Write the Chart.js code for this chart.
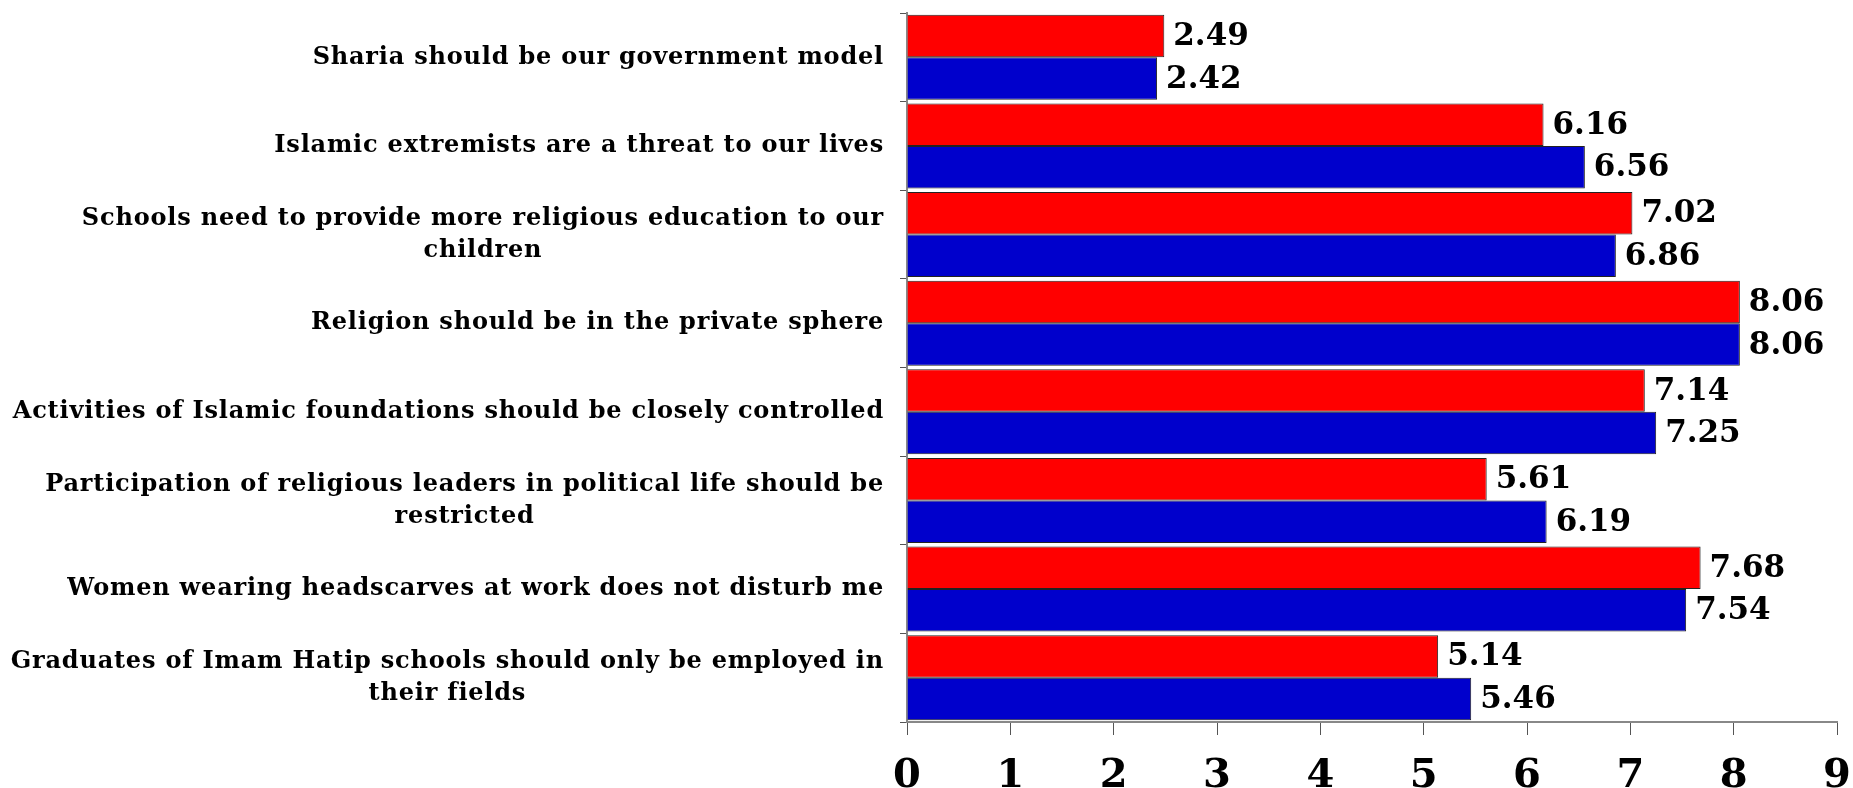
<!DOCTYPE html>
<html>
<head>
<meta charset="utf-8">
<script src="https://cdn.jsdelivr.net/npm/chart.js@4"></script>
<style>
  body { margin: 0; background: #fff; }
  #wrap { width: 1853px; height: 788px; position: relative; }
</style>
</head>
<body>
<div id="wrap"><canvas id="barChart"></canvas></div>
<script>
const statements = [
    'Sharia should be our government model',
    'Islamic extremists are a threat to our lives',
    ['Schools need to provide more religious education to our', 'children'],
    'Religion should be in the private sphere',
    'Activities of Islamic foundations should be closely controlled',
    ['Participation of religious leaders in political life should be', 'restricted'],
    'Women wearing headscarves at work does not disturb me',
    ['Graduates of Imam Hatip schools should only be employed in', 'their fields'],
];

const redValues = [2.49, 6.16, 7.02, 8.06, 7.14, 5.61, 7.68, 5.14];
const blueValues = [2.42, 6.56, 6.86, 8.06, 7.25, 6.19, 7.54, 5.46];

const xTicks = [0, 1, 2, 3, 4, 5, 6, 7, 8, 9];

const serif = '"DejaVu Serif", serif';

// value text right after each bar
const valueLabels = {
    id: 'valueLabels',
    afterDatasetsDraw(chart) {
        const ctx = chart.ctx;
        ctx.save();
        ctx.font = 'bold 31px ' + serif;
        ctx.fillStyle = '#000';
        ctx.textAlign = 'left';
        ctx.textBaseline = 'middle';
        chart.data.datasets.forEach((ds, di) => {
            chart.getDatasetMeta(di).data.forEach((bar, i) => {
                ctx.fillText(ds.data[i].toFixed(2), bar.x + 9, bar.y + 1);
            });
        });
        ctx.restore();
    }
};

// category text: each block right-aligned, lines centered within the block
const categoryLabels = {
    id: 'categoryLabels',
    afterDraw(chart) {
        const ctx = chart.ctx;
        const yScale = chart.scales.y;
        const right = yScale.left - 16;
        ctx.save();
        ctx.font = 'bold 24px ' + serif;
        ctx.letterSpacing = '0.8px';
        ctx.fillStyle = '#000';
        ctx.textAlign = 'center';
        ctx.textBaseline = 'middle';
        statements.forEach((label, i) => {
            const lines = Array.isArray(label) ? label : [label];
            const w = Math.max(...lines.map(l => ctx.measureText(l).width));
            const cx = right - w / 2;
            const y = yScale.getPixelForValue(i);
            lines.forEach((line, j) => {
                ctx.fillText(line, cx, y + (j - (lines.length - 1) / 2) * 32);
            });
        });
        ctx.restore();
    }
};

const config = {
    type: 'bar',
    data: {
        labels: statements,
        datasets: [
            {
                data: redValues,
                backgroundColor: '#ff0000',
                borderColor: '#222',
                borderWidth: 1,
                barPercentage: 1.0,
                categoryPercentage: 0.96,
            },
            {
                data: blueValues,
                backgroundColor: '#0000cc',
                borderColor: '#222',
                borderWidth: 1,
                barPercentage: 1.0,
                categoryPercentage: 0.96,
            },
        ]
    },
    options: {
        indexAxis: 'y',
        responsive: true,
        maintainAspectRatio: false,
        animation: false,
        layout: {
            padding: { left: 900, top: 13, right: 0, bottom: 0 }
        },
        plugins: {
            legend: { display: false },
            tooltip: { enabled: false },
        },
        scales: {
            x: {
                min: 0,
                max: 9,
                afterBuildTicks: (scale) => {
                    scale.ticks = xTicks.map(v => ({ value: v }));
                },
                afterFit: (scale) => {
                    scale.height = 66;
                    scale.paddingRight = 16;
                },
                grid: {
                    drawOnChartArea: false,
                    tickLength: 13,
                    color: '#555',
                    lineWidth: 1,
                },
                border: { color: '#888', width: 2 },
                ticks: {
                    padding: 18,
                    color: '#000',
                    font: { family: serif, size: 40, weight: 'bold' },
                }
            },
            y: {
                grid: {
                    drawOnChartArea: false,
                    offset: true,
                    tickLength: 7,
                    color: '#555',
                },
                border: { color: '#888', width: 2 },
                ticks: { display: false }
            }
        }
    },
    plugins: [valueLabels, categoryLabels]
};

const barChart = new Chart(document.getElementById('barChart').getContext('2d'), config);
</script>
</body>
</html>
